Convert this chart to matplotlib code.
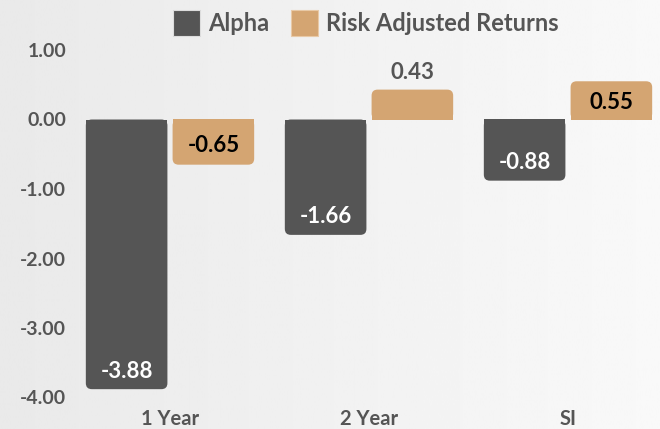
import numpy as np
import matplotlib
matplotlib.use("Agg")
import matplotlib.pyplot as plt
from matplotlib.patches import FancyBboxPatch, Rectangle

categories = ["1 Year", "2 Year", "SI"]
alpha_vals = [-3.88, -1.66, -0.88]
risk_vals = [-0.65, 0.43, 0.55]
series_names = ["Alpha", "Risk Adjusted Returns"]
yticks = [1.0, 0.0, -1.0, -2.0, -3.0, -4.0]

C_ALPHA = "#555555"
C_RISK = "#D4A572"
C_TEXT = "#555555"

plt.rcParams['font.family'] = ['Lato', 'DejaVu Sans']

W, H = 660, 429
fig = plt.figure(figsize=(W / 100, H / 100), dpi=100)

# background gradient
bg = fig.add_axes([0, 0, 1, 1], zorder=-10)
grad = np.linspace(0.915, 0.975, 256).reshape(1, -1)
bg.imshow(grad, aspect="auto", cmap="gray", vmin=0, vmax=1, extent=[0, 1, 0, 1])
bg.set_axis_off()

# axes placement (pixels)
x_left_px = 70.5
x_right_px = 667.5
y_top_px = 50
y_bot_px = 397.5
ax = fig.add_axes([x_left_px / W, (H - y_bot_px) / H,
                   (x_right_px - x_left_px) / W, (y_bot_px - y_top_px) / H])
ax.set_facecolor("none")
ax.set_xlim(-0.5, 2.5)
ax.set_ylim(-4.0, 1.0)

x = np.arange(len(categories))
bw = 0.41
gap = 0.013
bars_a = ax.bar(x - bw / 2 - gap, alpha_vals, width=bw, color=C_ALPHA)
bars_r = ax.bar(x + bw / 2 + gap, risk_vals, width=bw, color=C_RISK)

# rounded outer corners
px_per_x = (x_right_px - x_left_px) / 3.0
px_per_y = (y_bot_px - y_top_px) / 5.0
r_px = 6
rx = r_px / px_per_x
ry = r_px / px_per_y
for bars in (bars_a, bars_r):
    for b in bars:
        bx, by, bwid, bh = b.get_x(), b.get_y(), b.get_width(), b.get_height()
        col = b.get_facecolor()
        b.set_visible(False)
        y0, y1 = min(by, by + bh), max(by, by + bh)
        p = FancyBboxPatch((bx, y0), bwid, y1 - y0,
                           boxstyle=f"round,pad=0,rounding_size={rx}",
                           mutation_aspect=ry / rx, fc=col, ec="none", lw=0)
        ax.add_patch(p)
        # flat side at zero
        if bh < 0:
            ax.add_patch(Rectangle((bx, y1 - (y1 - y0) / 2), bwid, (y1 - y0) / 2,
                                   fc=col, ec="none", lw=0))
        else:
            ax.add_patch(Rectangle((bx, y0), bwid, (y1 - y0) / 2,
                                   fc=col, ec="none", lw=0))

# value labels
fs_val = 16
for b, v in zip(bars_a, alpha_vals):
    ax.annotate(f"{v:.2f}", (b.get_x() + b.get_width() / 2, v),
                xytext=(0, 13), textcoords="offset points",
                ha="center", va="center", color="white",
                fontsize=fs_val, fontweight="bold")
for b, v in zip(bars_r, risk_vals):
    if v < 0:
        off, col = 14, "black"
    elif v < 0.5:
        off, col = 12, C_TEXT
    else:
        off, col = -15, "black"
    ax.annotate(f"{v:.2f}", (b.get_x() + b.get_width() / 2, v),
                xytext=(0, off), textcoords="offset points",
                ha="center", va="center", color=col,
                fontsize=fs_val, fontweight="bold")

ax.set_yticks(yticks)
ax.set_yticklabels([f"{t:.2f}" for t in yticks], fontsize=14,
                   fontweight="bold", color=C_TEXT)
ax.set_xticks(x)
ax.set_xticklabels(categories, fontsize=14.5, fontweight="bold", color=C_TEXT)
ax.tick_params(axis="both", length=0)
ax.tick_params(axis="y", pad=3)
ax.tick_params(axis="x", pad=8)
for s in ax.spines.values():
    s.set_visible(False)

# legend
handles = [Rectangle((0, 0), 1, 1, fc=C_ALPHA, ec="#dddddd", lw=0.8),
           Rectangle((0, 0), 1, 1, fc=C_RISK, ec="#e8c9a6", lw=0.8)]
leg = fig.legend(handles, series_names, loc="center", ncol=2,
                 bbox_to_anchor=(366 / W, 1 - 23 / H), frameon=False,
                 handlelength=1.15, handleheight=1.3, handletextpad=0.35,
                 columnspacing=0.9,
                 prop={"family": "Lato", "weight": "bold", "size": 17})
for t in leg.get_texts():
    t.set_color(C_TEXT)

fig.savefig("out.png", dpi=100)
